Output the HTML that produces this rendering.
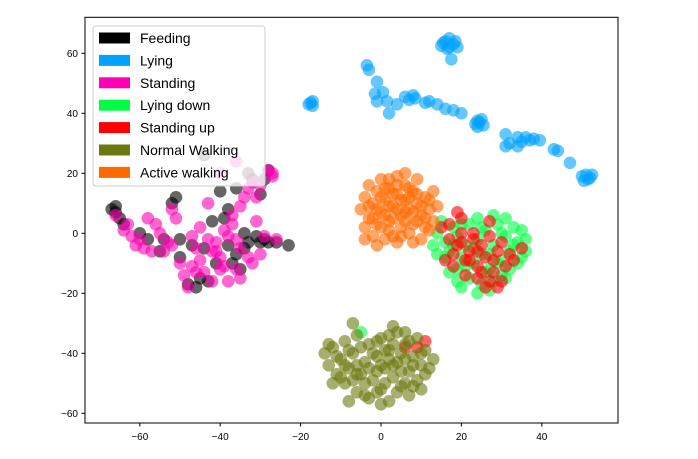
<!DOCTYPE html>
<html><head><meta charset="utf-8">
<style>
body{margin:0;background:#fff;}
svg{display:block;font-family:"Liberation Sans","DejaVu Sans",sans-serif;}
</style></head>
<body>
<svg id="chart" width="698" height="459" viewBox="0 0 698 459" xmlns="http://www.w3.org/2000/svg">
<rect x="0" y="0" width="698" height="459" fill="#fff"/>
<g id="points"></g>
<rect x="85" y="17.3" width="533" height="405.7" fill="none" stroke="#000" stroke-width="1"/>
<g id="xaxis"></g>
<g id="yaxis"></g>
<g id="legend"></g>
</svg>
<script>
const xTicks=[-60,-40,-20,0,20,40];
const yTicks=[-60,-40,-20,0,20,40,60];
const classNames=["Feeding","Lying","Standing","Lying down","Standing up","Normal Walking","Active walking"];
const classColors=["#000000","#00a2ff","#ff00b4","#00ff44","#ff0000","#6b7a0f","#ff6a00"];
const feeding=[[-67,8],[-66,7],[-65,5],[-64,3],[-58,-2],[-54,-2],[-52,10],[-51,12],[-50,-8],[-47,-4],[-46,-18],[-45,-15],[-43,-16],[-44,26],[-42,4],[-40,14],[-39,5],[-38,8],[-37,-10],[-36,-7],[-35,-12],[-34,-5],[-33,-3],[-31,-1],[-30,-3],[-29,-2],[-28,-3],[-26,-3],[-23,-4],[-33,20],[-32,18],[-29,18],[-36,15],[-38,-4],[-41,-10],[-48,-17],[-55,-6],[-60,0],[-34,0],[-30,13],[-50,-2],[-44,-5],[-66,9],[-28,21]];
const lying=[[16,64],[18,63],[17,62],[15.5,63.5],[17,65],[18.5,64],[15,62.5],[16.5,61.5],[19,62],[17.5,58],[-18,43],[-17,44],[-17.5,43.5],[-17,42.5],[24,37.5],[25.5,36],[23.5,36.5],[24.5,37],[25,38],[24,35.5],[50,19],[52,18.5],[51,19.5],[51.5,18],[50.5,17.5],[52.5,19.5],[-3.5,56],[-3,54.5],[-1,50.5],[-1.5,46.5],[-1,44],[0.5,47],[1.5,44],[2,40],[4,43],[6,45.5],[7,44.5],[8,46],[8.5,45],[11,43.5],[12,44],[14,43],[16,41.5],[18,41],[20,40],[31,33],[32,30],[31,29],[34,32],[34,29],[35,30.5],[36,32],[37,31],[38,31.5],[39.5,31],[43,28],[44,27.5],[47,23.5]];
const standing=[[-66,6],[-64,1],[-62,-1],[-61,-4],[-59,-5],[-57,-6],[-56,3],[-55,0],[-53,-3],[-52,8],[-51,5],[-50,-10],[-49,-14],[-48,-18],[-47,-11],[-46,-5],[-45,-9],[-44,-13],[-43,-2],[-42,-6],[-41,-3],[-40,-8],[-39,1],[-38,-1],[-37,3],[-36,-2],[-35,9],[-35,-15],[-34,12],[-33,15],[-32,17],[-31,12],[-30,16],[-28,21],[-27,20],[-29,-1],[-30,-7],[-32,-10],[-36,-12],[-38,-16],[-40,-12],[-42,-16],[-43,10],[-45,2],[-47,-1],[-54,-6],[-58,5],[-60,-2],[-26,-2],[-33,-8],[-37,6],[-31,4],[-27,19],[-40,20],[-36,24],[-46,-13],[-41,-6],[-39,-11],[-35,-5],[-52,-4],[-63,3]];
const lyingDown=[[14,0],[16,-3],[17,-6],[18,2],[19,-1],[20,-8],[21,-4],[22,3],[23,-10],[24,-2],[25,-7],[26,1],[27,-12],[28,-4],[29,3],[30,-9],[31,-1],[32,-6],[33,2],[34,-3],[35,-8],[36,-2],[22,-15],[25,-17],[28,-16],[30,-14],[19,-12],[16,-8],[13,-4],[24,5],[31,5],[34,-10],[20,-18],[27,-19],[15,4],[-5,-33],[17,-13],[21,-11],[23,-5],[26,-13],[29,-10],[32,-12],[33,-4],[35,1],[30,0],[27,-7],[18,-4],[20,3],[25,2],[28,6],[36,-6],[14,-7],[19,-16],[24,-20],[31,-15]];
const standingUp=[[15,2],[17,-2],[18,-7],[19,-4],[20,0],[21,-9],[22,-6],[23,-2],[24,-11],[25,-4],[26,-8],[27,-1],[28,-13],[29,-6],[30,-3],[31,-11],[32,-7],[24,-15],[26,-18],[29,-18],[21,-14],[18,-11],[23,0],[27,4],[20,5],[35,-5],[17,3],[6,-38],[9,-38],[11,-36],[22,-9],[25,-13],[28,-9],[30,-16],[33,-9],[20,-3],[24,-6],[27,-16],[16,-9],[19,7]];
const normalWalking=[[-14,-40],[-13,-44],[-12,-38],[-11,-47],[-10,-42],[-9,-36],[-9,-50],[-8,-45],[-7,-40],[-6,-34],[-6,-53],[-5,-47],[-4,-43],[-3,-37],[-3,-55],[-2,-49],[-1,-41],[0,-35],[0,-52],[1,-45],[2,-39],[2,-56],[3,-48],[4,-33],[4,-43],[5,-51],[6,-37],[7,-46],[7,-54],[8,-41],[9,-35],[9,-49],[10,-44],[11,-39],[12,-45],[13,-42],[-12,-50],[-7,-30],[3,-31],[6,-33],[10,-52],[-4,-50],[-1,-46],[-8,-56],[2,-42],[-11,-41],[-10,-48],[-8,-39],[-7,-49],[-6,-44],[-5,-38],[-4,-54],[-3,-45],[-2,-40],[-1,-36],[-1,-53],[0,-44],[1,-39],[1,-50],[2,-34],[3,-44],[4,-53],[5,-40],[5,-46],[6,-50],[7,-36],[8,-44],[8,-51],[10,-40],[11,-47],[0,-57],[-13,-37],[-9,-44],[-6,-47],[3,-37],[6,-42]];
const activeWalking=[[-5,8],[-4,12],[-4,2],[-3,16],[-3,5],[-2,-1],[-2,10],[-1,14],[-1,3],[0,7],[0,18],[1,-2],[1,11],[2,4],[2,15],[3,9],[3,-1],[4,13],[4,19],[5,2],[5,6],[6,11],[6,16],[7,0],[7,8],[8,14],[8,3],[9,10],[9,18],[10,6],[10,-2],[11,12],[11,2],[12,8],[13,4],[13,14],[14,9],[-1,-4],[4,-3],[8,-3],[6,20],[-3,9],[-2,5],[-1,8],[0,12],[0,2],[1,15],[1,6],[2,9],[2,1],[3,13],[3,5],[4,8],[4,16],[5,11],[5,-1],[6,4],[6,7],[7,12],[7,15],[8,7],[9,4],[9,13],[10,9],[11,5],[12,11],[-4,-2],[2,18],[12,1]];
const classData=[feeding,lying,standing,lyingDown,standingUp,normalWalking,activeWalking];

const X0=381,XS=4.02,Y0=233.3,YS=3;
function xScale(v){return X0+XS*v;}
function yScale(v){return Y0-YS*v;}
const NS="http://www.w3.org/2000/svg";
function mk(tag,attrs,parent){const e=document.createElementNS(NS,tag);for(const k in attrs)e.setAttribute(k,attrs[k]);parent.appendChild(e);return e;}

const pts=document.getElementById('points');
classData.forEach((arr,ci)=>{
  const g=mk('g',{},pts);
  
  
  arr.forEach(p=>{
    const c=mk('circle',{cx:xScale(p[0]),cy:yScale(p[1]),r:6.3,fill:classColors[ci],'fill-opacity':0.6},g);
    
    
  });
});

const xa=document.getElementById('xaxis');
xTicks.forEach(t=>{
  const x=xScale(t);
  const l=mk('line',{x1:x,x2:x,y1:423,y2:426.5,stroke:'#000'},xa);
  
  
  const tx=mk('text',{x:x,y:440,'font-size':10,'text-anchor':'middle',fill:'#000'},xa);
  
  
  tx.textContent=(t<0?'\u2212'+(-t):t);
});
const ya=document.getElementById('yaxis');
yTicks.forEach(t=>{
  const y=yScale(t);
  const l=mk('line',{x1:81.5,x2:85,y1:y,y2:y,stroke:'#000'},ya);
  
  
  const tx=mk('text',{x:78,y:y+3.5,'font-size':10,'text-anchor':'end',fill:'#000'},ya);
  
  
  tx.textContent=(t<0?'\u2212'+(-t):t);
});

const lg=document.getElementById('legend');
const box=mk('rect',{x:93,y:26,width:172,height:160,rx:3,fill:'#fff','fill-opacity':0.8,stroke:'#ccc'},lg);


classNames.forEach((n,i)=>{
  const y=38+i*22.4;
  const g=mk('g',{},lg);
  
  
  mk('rect',{x:99,y:y-5.5,width:31,height:11,fill:classColors[i]},g);
  const t=mk('text',{x:140,y:y+5,'font-size':14,fill:'#000'},g);
  t.textContent=n;
});
</script>
</body></html>
